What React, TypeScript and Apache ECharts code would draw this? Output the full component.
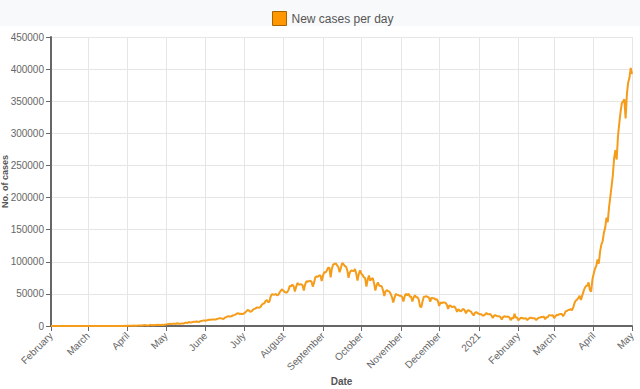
import React, { useEffect, useRef } from "react";
import * as echarts from "echarts";

// Daily new cases, one array per month (Feb 2020 .. May 2021)
const feb2020 = [0, 1, 1, 0, 0, 0, 0, 0, 0, 0, 0, 0, 0, 0, 0, 0, 0, 0, 0, 0, 0, 0, 0, 0, 0, 0, 0, 0, 0];
const mar2020 = [0, 2, 1, 22, 2, 1, 3, 5, 4, 13, 6, 11, 9, 20, 11, 6, 23, 14, 38, 50, 86, 66, 103, 37, 121, 70, 160, 100, 106, 227, 146];
const apr2020 = [437, 235, 478, 525, 505, 704, 508, 485, 591, 896, 768, 918, 796, 1463, 1248, 1034, 835, 1108, 1893, 924, 1540, 1290, 1707, 1561, 1835, 1607, 1561, 1873, 1738, 1801];
const may2020 = [2396, 2564, 2952, 3656, 2971, 3602, 3344, 3339, 3175, 4311, 3592, 3562, 3726, 3967, 3970, 4987, 5242, 4630, 6147, 5611, 5609, 6088, 6654, 6767, 6977, 6535, 6387, 7466, 7964, 8380, 8392];
const jun2020 = [8171, 8909, 9304, 9851, 9887, 9971, 9983, 9987, 9985, 10956, 11458, 11929, 12023, 11502, 10667, 12881, 13586, 14516, 15413, 14821, 14933, 15968, 16922, 17296, 18552, 19906, 19459, 18653, 19148, 18500];
const jul2020 = [19428, 20903, 22771, 24850, 24248, 22252, 22752, 24879, 26506, 27114, 28637, 28701, 28498, 29429, 32695, 34956, 34884, 38902, 40425, 37148, 37724, 45720, 49310, 48916, 48661, 49931, 47704, 48513, 52123, 55078, 57117];
const aug2020 = [54736, 52972, 52050, 52509, 56282, 62538, 61537, 64399, 62064, 53601, 60963, 66999, 64553, 64732, 65002, 63490, 55079, 64531, 69652, 68900, 69878, 70488, 69239, 61408, 67151, 75760, 77266, 76472, 78761, 78512, 69921];
const sep2020 = [78357, 83883, 83341, 86432, 90632, 90802, 75809, 89706, 95735, 96551, 97570, 94372, 92071, 83809, 90123, 97894, 96424, 93337, 92605, 86961, 75083, 83347, 86508, 86052, 85362, 88600, 82170, 70589, 80472, 86821];
const oct2020 = [81484, 79476, 75829, 74442, 61267, 72049, 78524, 70496, 73272, 74383, 66732, 55342, 63509, 67708, 63371, 62212, 61871, 55722, 46790, 54044, 55839, 54366, 53370, 50129, 45148, 36469, 43893, 49881, 48648, 48268, 46963];
const nov2020 = [46964, 45231, 38310, 46253, 50210, 47638, 50357, 45674, 45903, 38073, 44281, 47905, 44879, 44878, 41100, 30548, 29163, 38617, 45576, 45882, 46232, 45209, 44059, 37975, 44376, 43082, 43174, 41322, 41810, 38772];
const dec2020 = [31118, 36604, 35551, 36595, 36652, 36011, 32981, 26567, 32080, 31521, 29398, 30006, 30254, 27071, 22065, 26382, 24010, 22890, 25152, 26624, 24337, 19556, 23950, 24712, 23067, 22272, 18732, 16432, 20550, 21822, 20035];
const jan2021 = [19079, 18177, 18177, 16504, 16375, 18088, 20346, 18139, 18222, 18645, 16311, 12584, 15968, 16946, 15590, 15158, 15144, 13788, 10064, 13823, 15223, 14545, 14256, 14849, 13203, 9102, 12689, 11666, 18855, 13083, 13052];
const feb2021 = [8635, 11039, 12899, 12408, 11713, 11713, 12059, 9110, 11067, 12923, 12713, 12143, 12194, 11649, 9121, 11610, 12881, 13193, 13993, 13993, 14264, 10584, 13742, 13742, 16738, 16577, 16488, 16752];
const mar2021 = [12286, 14989, 17407, 16838, 18327, 18711, 18599, 15388, 17921, 22854, 23285, 24882, 25320, 26291, 24492, 28903, 35871, 39726, 40953, 43846, 46951, 40715, 47262, 53476, 59118, 62258, 62714, 68020, 56211, 53480, 72330];
const apr2021 = [81466, 89129, 93249, 103558, 96982, 115736, 126789, 131968, 145384, 152879, 168912, 161736, 184372, 200739, 217353, 234692, 261500, 273810, 259170, 295041, 314835, 332730, 346786, 349691, 352991, 323144, 360960, 379257, 386452, 401993];
const may2021 = [392488];

const monthSeries = [feb2020, mar2020, apr2020, may2020, jun2020, jul2020, aug2020, sep2020, oct2020, nov2020, dec2020, jan2021, feb2021, mar2021, apr2021, may2021];
const monthLabels = ["February", "March", "April", "May", "June", "July", "August", "September", "October", "November", "December", "2021", "February", "March", "April", "May"];

const yTicks = { min: 0, max: 450000, interval: 50000 };

export default function App() {
  const ref = useRef<HTMLDivElement>(null);
  useEffect(() => {
    if (!ref.current) return;
    const chart = echarts.init(ref.current, null, { renderer: "svg" });
    const categories: string[] = [];
    const values: number[] = [];
    monthSeries.forEach((arr, m) => {
      arr.forEach((v, d) => {
        categories.push(m + "|" + d);
        values.push(v);
      });
    });
    const isMonthStart = (_i: number, val: string) => val.split("|")[1] === "0";
    const font = "'Liberation Sans', Arial, Helvetica, sans-serif";
    chart.setOption({
      animation: false,
      backgroundColor: "#ffffff",
      textStyle: { fontFamily: font },
      graphic: [
        {
          type: "rect",
          left: 0,
          top: 0,
          z: -10,
          shape: { x: 0, y: 0, width: 640, height: 26 },
          style: { fill: "#f8f9fa" },
          silent: true,
        },
      ],
      legend: {
        left: 267,
        top: 6,
        icon: "rect",
        itemWidth: 14,
        itemHeight: 14,
        itemGap: 10,
        textStyle: { fontSize: 12, color: "#555", fontFamily: font },
        itemStyle: { color: "#ff9800", borderColor: "#a86400", borderWidth: 1 },
        data: ["New cases per day"],
      },
      grid: { left: 51, right: 8, top: 37, bottom: 63, containLabel: false, outerBoundsMode: "none" },
      xAxis: {
        type: "category",
        data: categories,
        boundaryGap: false,
        name: "Date",
        nameLocation: "middle",
        nameGap: 50,
        nameMoveOverlap: false,
        nameTextStyle: { fontSize: 10, fontWeight: "bold", color: "#555", fontFamily: font },
        axisLine: { show: true, lineStyle: { color: "#666", width: 2 } },
        axisTick: { show: true, interval: isMonthStart, length: 5, lineStyle: { color: "#666" } },
        splitLine: { show: true, interval: isMonthStart, lineStyle: { color: "#e6e6e6", width: 1 } },
        axisLabel: {
          interval: isMonthStart,
          rotate: 45,
          fontSize: 10,
          color: "#666",
          margin: 8,
          fontFamily: font,
          formatter: (val: string) => monthLabels[Number(val.split("|")[0])],
        },
      },
      yAxis: {
        type: "value",
        min: yTicks.min,
        max: yTicks.max,
        interval: yTicks.interval,
        name: "No. of cases",
        nameLocation: "middle",
        nameGap: 42,
        nameMoveOverlap: false,
        nameTextStyle: { fontSize: 9, fontWeight: "bold", color: "#555", fontFamily: font },
        axisLine: { show: true, lineStyle: { color: "#666", width: 2 } },
        axisTick: { show: true, length: 5, lineStyle: { color: "#666" } },
        splitLine: { show: true, lineStyle: { color: "#e6e6e6", width: 1 } },
        axisLabel: {
          fontSize: 10,
          color: "#666",
          margin: 7,
          fontFamily: font,
          formatter: (v: number) => String(v),
        },
      },
      series: [
        {
          name: "New cases per day",
          type: "line",
          data: values,
          showSymbol: false,
          symbol: "none",
          lineStyle: { color: "#f59c1a", width: 2 },
          itemStyle: { color: "#ff9800" },
        },
      ],
    });
    return () => chart.dispose();
  }, []);
  return <div ref={ref} style={{ width: 640, height: 389, position: "absolute", left: 0, top: 0 }} />;
}
